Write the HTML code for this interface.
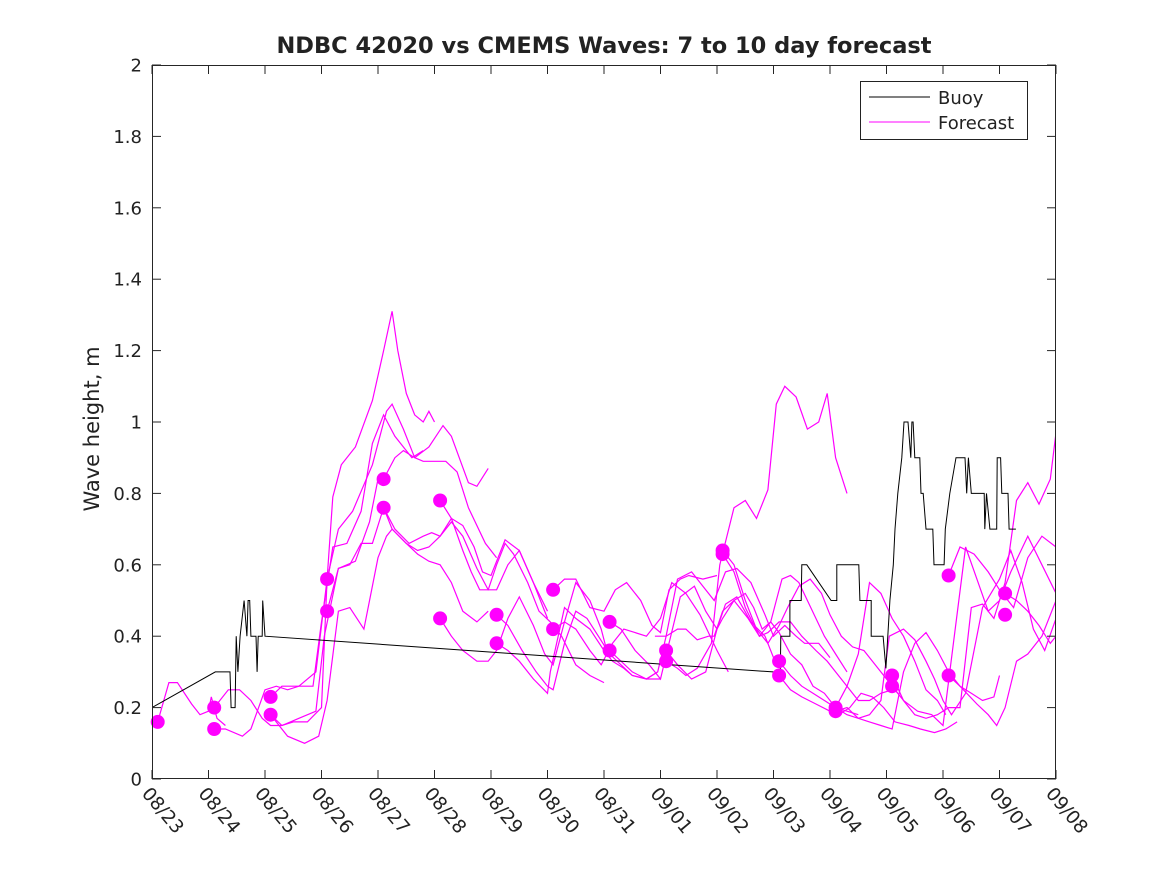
<!DOCTYPE html>
<html><head><meta charset="utf-8">
<style>
body{margin:0;background:#fff;}
svg{display:block;font-family:"DejaVu Sans","Liberation Sans",sans-serif;}
</style></head>
<body>
<svg id="chart" width="1167" height="875" viewBox="0 0 1167 875" xmlns="http://www.w3.org/2000/svg">
<rect width="1167" height="875" fill="#fff"/>
<text x="604" y="53" text-anchor="middle" font-size="22.5" font-weight="bold" fill="#222">NDBC 42020 vs CMEMS Waves: 7 to 10 day forecast</text>
<text transform="translate(99,429) rotate(-90)" text-anchor="middle" font-size="21" fill="#222">Wave height, m</text>
<g id="plot"></g>
<g id="axes"></g>
<g>
<rect x="860.5" y="81.5" width="167" height="58" fill="#fff" stroke="#222" stroke-width="1"/>
<line x1="869" y1="97" x2="930" y2="97" stroke="#000" stroke-width="1"/>
<text x="938" y="104" font-size="18" fill="#222">Buoy</text>
<line x1="869" y1="122" x2="930" y2="122" stroke="#f0f" stroke-width="1"/>
<text x="938" y="129" font-size="18" fill="#222">Forecast</text>
</g>
</svg>
<script>
const dateLabels=["08/23","08/24","08/25","08/26","08/27","08/28","08/29","08/30","08/31","09/01","09/02","09/03","09/04","09/05","09/06","09/07","09/08"];
const yTicks=[0,0.2,0.4,0.6,0.8,1,1.2,1.4,1.6,1.8,2];
const yTickLabels=["0","0.2","0.4","0.6","0.8","1","1.2","1.4","1.6","1.8","2"];
const buoyDays=[0,1.12,1.38,1.40,1.47,1.49,1.52,1.56,1.63,1.68,1.70,1.73,1.75,1.84,1.86,1.88,1.95,1.96,2.0,10.99,11.12,11.13,11.29,11.29,11.49,11.50,11.59,12.02,12.12,12.12,12.51,12.53,12.73,12.73,12.94,12.99,13.06,13.12,13.15,13.20,13.27,13.31,13.38,13.43,13.45,13.47,13.50,13.59,13.61,13.65,13.70,13.82,13.84,14.02,14.04,14.12,14.23,14.39,14.42,14.45,14.50,14.73,14.74,14.77,14.83,14.95,14.96,15.02,15.04,15.15,15.17,15.29];
const buoyValues=[0.20,0.30,0.30,0.20,0.20,0.40,0.30,0.40,0.50,0.40,0.50,0.50,0.40,0.40,0.30,0.40,0.40,0.50,0.40,0.30,0.30,0.40,0.40,0.50,0.50,0.60,0.60,0.50,0.50,0.60,0.60,0.50,0.50,0.40,0.40,0.31,0.50,0.60,0.70,0.80,0.90,1.00,1.00,0.90,1.00,1.00,0.90,0.90,0.80,0.80,0.70,0.70,0.60,0.60,0.70,0.80,0.90,0.90,0.80,0.90,0.80,0.80,0.70,0.80,0.70,0.70,0.90,0.90,0.80,0.80,0.70,0.70];
const dotDays=[0.1,1.1,1.1,2.1,2.1,3.1,3.1,4.1,4.1,5.1,5.1,6.1,6.1,7.1,7.1,8.1,8.1,9.1,9.1,10.1,10.1,11.1,11.1,12.1,12.1,13.1,13.1,14.1,14.1,15.1,15.1];
const dotValues=[0.16,0.20,0.14,0.23,0.18,0.56,0.47,0.84,0.76,0.78,0.45,0.46,0.38,0.53,0.42,0.44,0.36,0.36,0.33,0.64,0.63,0.33,0.29,0.20,0.19,0.29,0.26,0.57,0.29,0.52,0.46];
const fcDays=[
[0.1,0.3,0.45,0.7,0.85,1.0,1.05,1.15,1.3],
[1.1,1.35,1.55,1.75,1.95,2.1,2.3,2.6,2.9,3.05,3.3,3.6,3.85,4.0],
[1.1,1.3,1.6,1.75,2.0,2.2,2.4,2.6,2.85,3.0,3.2,3.45,3.7,3.9,4.1,4.3,4.6,4.8],
[2.1,2.3,2.5,2.75,3.0,3.1,3.2,3.35,3.6,3.9,4.1,4.25,4.35,4.5,4.65,4.8,4.9,5.0],
[2.1,2.3,2.6,2.9,3.1,3.3,3.55,3.9,4.15,4.25,4.45,4.65,4.8,5.2,5.4,5.6,5.9,6.1],
[2.1,2.4,2.7,2.95,3.1,3.3,3.5,3.75,4.0,4.15,4.25,4.5,4.7,4.9,5.1,5.3,5.5,5.75,5.95],
[3.1,3.3,3.5,3.7,3.9,4.1,4.25,4.5,4.7,4.9,5.1,5.3,5.5,5.75,5.95,6.1,6.3,6.5,6.75,7.0],
[4.1,4.3,4.45,4.65,4.9,5.15,5.3,5.6,5.75,5.95],
[4.1,4.3,4.55,4.8,4.95,5.1,5.3,5.5,5.7,5.85,6.0,6.25,6.5,6.75,7.0],
[5.1,5.3,5.5,5.65,5.8,5.95,6.1,6.25,6.4,6.65,6.85,7.05,7.25,7.5,7.75,8.0],
[5.1,5.3,5.5,5.75,5.95,6.1,6.3,6.5,6.75,6.95,7.1,7.3,7.5,7.75,7.95,8.05],
[6.1,6.3,6.55,6.8,7.0,7.1,7.3,7.5,7.7,7.9,8.1,8.3,8.5,8.75,9.0],
[6.1,6.3,6.5,6.75,7.0,7.05,7.3,7.5,7.75,8.0,8.15,8.35,8.5,8.75,8.95],
[7.1,7.3,7.5,7.75,8.0,8.2,8.4,8.65,8.85,9.0,9.15,9.35,9.5,9.75,10.0],
[7.1,7.3,7.5,7.75,7.95,8.15,8.35,8.55,8.75,9.0,9.2,9.45,9.7,10.0,10.2],
[8.1,8.3,8.55,8.8,9.0,9.15,9.35,9.6,9.8,10.0,10.15,10.35,10.6,10.85,11.0],
[8.1,8.3,8.5,8.75,8.95,9.1,9.3,9.55,9.75,9.95,10.15,10.35,10.6,10.85,11.0,11.2,11.4,11.55,11.8,12.0],
[9.1,9.3,9.55,9.8,10.0,10.1,10.3,10.55,10.75,10.95,11.1,11.3,11.5,11.7,11.9,12.1,12.3,12.5],
[9.1,9.3,9.45,9.65,9.9,10.05,10.3,10.5,10.7,10.9,11.05,11.2,11.4,11.6,11.8,11.95,12.1,12.3],
[8.9,9.1,9.3,9.45,9.65,9.85,9.95,10.1,10.3,10.5,10.65,10.8,10.95,11.05,11.15,11.3,11.45,11.6,11.75,11.9,12.1,12.3],
[10.1,10.3,10.5,10.7,10.9,11.1,11.25,11.45,11.65,11.85,12.0,12.2,12.4,12.6,12.8,13.0,13.2],
[10.1,10.3,10.5,10.75,10.9,11.1,11.3,11.5,11.75,11.95,12.1,12.3,12.5,12.7,12.9,13.1],
[11.1,11.3,11.5,11.7,11.9,12.1,12.3,12.5,12.7,12.9,13.1,13.3,13.5,13.7,13.9,14.05],
[11.1,11.3,11.5,11.75,12.0,12.15,12.35,12.55,12.75,12.95,13.15,13.4,13.6,13.85,14.05,14.25],
[12.1,12.3,12.5,12.7,12.9,13.1,13.3,13.5,13.7,13.9,14.1,14.3,14.5,14.7,14.9,15.0],
[12.1,12.3,12.5,12.7,12.9,13.05,13.3,13.5,13.7,13.85,14.0,14.15,14.4,14.7,15.0,15.2,15.4,15.6,15.8,16.0],
[13.1,13.3,13.5,13.7,13.9,14.1,14.3,14.5,14.7,14.9,15.1,15.3,15.5,15.7,15.9,16.0],
[13.1,13.3,13.55,13.8,14.0,14.2,14.4,14.6,14.8,15.0,15.2,15.5,15.75,16.0],
[14.1,14.3,14.55,14.8,15.0,15.25,15.5,15.75,16.0],
[14.1,14.3,14.6,14.8,14.95,15.1,15.3,15.5,15.75,16.0],
[15.1,15.3,15.5,15.7,15.9,16.0]
];
const fcValues=[
[0.16,0.27,0.27,0.21,0.18,0.19,0.23,0.17,0.15],
[0.20,0.25,0.25,0.22,0.17,0.15,0.15,0.17,0.19,0.40,0.59,0.61,0.72,0.84],
[0.14,0.14,0.12,0.14,0.25,0.26,0.25,0.26,0.26,0.44,0.65,0.66,0.75,0.94,1.02,0.96,0.90,0.92],
[0.18,0.15,0.16,0.16,0.20,0.56,0.79,0.88,0.93,1.06,1.20,1.31,1.20,1.08,1.02,1.00,1.03,1.00],
[0.23,0.26,0.26,0.30,0.56,0.70,0.75,0.88,1.03,1.05,0.98,0.90,0.89,0.89,0.86,0.76,0.66,0.62],
[0.18,0.12,0.10,0.12,0.22,0.47,0.48,0.42,0.62,0.68,0.70,0.66,0.63,0.61,0.60,0.55,0.47,0.44,0.47],
[0.47,0.59,0.60,0.66,0.66,0.76,0.70,0.66,0.64,0.65,0.68,0.72,0.68,0.59,0.53,0.53,0.60,0.64,0.55,0.45],
[0.84,0.90,0.92,0.90,0.93,0.99,0.96,0.83,0.82,0.87],
[0.76,0.70,0.66,0.68,0.69,0.68,0.73,0.71,0.65,0.58,0.57,0.67,0.64,0.55,0.47],
[0.78,0.73,0.64,0.58,0.53,0.53,0.60,0.66,0.63,0.55,0.47,0.44,0.40,0.32,0.29,0.27],
[0.45,0.40,0.36,0.33,0.33,0.36,0.45,0.51,0.43,0.35,0.32,0.44,0.55,0.50,0.42,0.36],
[0.46,0.43,0.36,0.30,0.26,0.25,0.38,0.47,0.45,0.40,0.35,0.32,0.29,0.28,0.28],
[0.38,0.36,0.33,0.28,0.24,0.30,0.48,0.45,0.42,0.36,0.33,0.31,0.29,0.28,0.30],
[0.53,0.56,0.56,0.48,0.47,0.53,0.55,0.50,0.43,0.41,0.53,0.56,0.57,0.56,0.57],
[0.42,0.44,0.42,0.36,0.32,0.38,0.42,0.41,0.40,0.45,0.55,0.52,0.46,0.36,0.30],
[0.44,0.42,0.36,0.32,0.28,0.38,0.51,0.54,0.47,0.42,0.49,0.51,0.44,0.40,0.34],
[0.36,0.33,0.30,0.28,0.30,0.40,0.56,0.58,0.54,0.50,0.58,0.59,0.55,0.46,0.40,0.43,0.40,0.38,0.38,0.34],
[0.36,0.32,0.28,0.30,0.42,0.45,0.50,0.45,0.40,0.44,0.41,0.35,0.32,0.26,0.24,0.20,0.19,0.18],
[0.33,0.31,0.29,0.31,0.38,0.60,0.76,0.78,0.73,0.81,1.05,1.10,1.07,0.98,1.00,1.08,0.90,0.80],
[0.40,0.40,0.42,0.42,0.39,0.40,0.40,0.47,0.50,0.52,0.48,0.42,0.44,0.50,0.56,0.57,0.55,0.50,0.45,0.40,0.35,0.30],
[0.64,0.60,0.50,0.42,0.38,0.43,0.48,0.54,0.56,0.52,0.46,0.40,0.37,0.36,0.32,0.28,0.24],
[0.63,0.58,0.48,0.40,0.41,0.44,0.44,0.40,0.36,0.33,0.30,0.26,0.22,0.22,0.24,0.25],
[0.33,0.29,0.26,0.24,0.22,0.20,0.26,0.35,0.55,0.52,0.45,0.40,0.33,0.25,0.22,0.18],
[0.29,0.25,0.23,0.21,0.19,0.18,0.20,0.24,0.23,0.20,0.16,0.15,0.14,0.13,0.14,0.16],
[0.20,0.18,0.17,0.16,0.15,0.14,0.30,0.38,0.41,0.36,0.30,0.26,0.24,0.22,0.23,0.29],
[0.19,0.20,0.17,0.18,0.22,0.40,0.42,0.39,0.33,0.28,0.22,0.18,0.24,0.48,0.56,0.64,0.55,0.42,0.36,0.45],
[0.29,0.22,0.18,0.17,0.18,0.20,0.20,0.48,0.49,0.45,0.55,0.78,0.83,0.77,0.84,0.97],
[0.26,0.22,0.19,0.18,0.15,0.40,0.65,0.56,0.47,0.50,0.58,0.68,0.60,0.52],
[0.57,0.65,0.63,0.58,0.53,0.48,0.62,0.68,0.65],
[0.29,0.26,0.21,0.18,0.15,0.20,0.33,0.35,0.40,0.50],
[0.52,0.50,0.47,0.43,0.38,0.40]
];
const X0=152,X1=1056,Y0=779,Y1=65,XMAX=16,YMAX=2;
function xs(d){return X0+(X1-X0)*d/XMAX;}
function ys(v){return Y0-(Y0-Y1)*v/YMAX;}
const NS="http://www.w3.org/2000/svg";
const plot=document.getElementById('plot'),axes=document.getElementById('axes');
function mk(tag,attrs,parent){const e=document.createElementNS(NS,tag);for(const k in attrs)e.setAttribute(k,attrs[k]);parent.appendChild(e);return e;}
const clip=mk('clipPath',{id:'cp'},plot);mk('rect',{x:X0,y:Y1,width:X1-X0,height:Y0-Y1},clip);
const g=mk('g',{'clip-path':'url(#cp)'},plot);
fcDays.forEach((days,i)=>{
  const pts=days.map((d,j)=>xs(d).toFixed(1)+','+ys(fcValues[i][j]).toFixed(1)).join(' ');
  const pl=mk('polyline',{points:pts,fill:'none',stroke:'#ff00ff','stroke-width':1.2},g);
  
  
});
const bp=buoyDays.map((d,j)=>xs(d).toFixed(1)+','+ys(buoyValues[j]).toFixed(1)).join(' ');
const bl=mk('polyline',{points:bp,fill:'none',stroke:'#000','stroke-width':1},g);


dotDays.forEach((d,i)=>{
  const c=mk('circle',{cx:xs(d).toFixed(1),cy:ys(dotValues[i]).toFixed(1),r:7,fill:'#ff00ff'},plot);
  
  
});
mk('rect',{x:X0+0.5,y:Y1+0.5,width:X1-X0-1,height:Y0-Y1-1,fill:'none',stroke:'#262626','stroke-width':1},axes);
yTicks.forEach((v,i)=>{
  const y=ys(v);
  mk('line',{x1:X0,y1:y,x2:X0+9,y2:y,stroke:'#262626'},axes);
  mk('line',{x1:X1-9,y1:y,x2:X1,y2:y,stroke:'#262626'},axes);
  const t=mk('text',{x:X0-10,y:y+6.5,'text-anchor':'end','font-size':18,fill:'#222'},axes);
  t.textContent=yTickLabels[i];
  
  
});
dateLabels.forEach((lab,i)=>{
  const x=xs(i);
  mk('line',{x1:x,y1:Y0,x2:x,y2:Y0-9,stroke:'#262626'},axes);
  mk('line',{x1:x,y1:Y1,x2:x,y2:Y1+9,stroke:'#262626'},axes);
  const tx=x-11,ty=Y0+15;
  const t=mk('text',{x:tx,y:ty,'font-size':18.5,fill:'#222',transform:'rotate(50 '+tx+' '+ty+')'},axes);
  t.textContent=lab;
  
  
});
</script>
</body></html>
